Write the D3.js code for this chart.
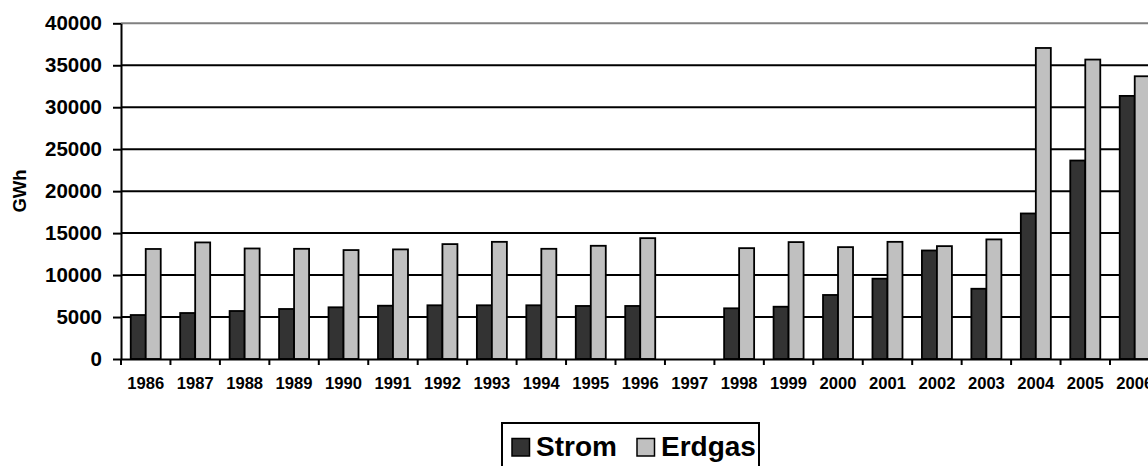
<!DOCTYPE html>
<html>
<head>
<meta charset="utf-8">
<script src="https://cdn.jsdelivr.net/npm/d3@7"></script>
<style>
  html, body { margin: 0; padding: 0; background: #fff; overflow: hidden; }
  svg { display: block; font-family: "Liberation Sans", Arial, sans-serif; font-weight: bold; }
</style>
</head>
<body>
<svg id="chart" width="1148" height="466"></svg>
<script>
// Jahre (Kategorien)
const years = ["1986","1987","1988","1989","1990","1991","1992","1993","1994","1995","1996",
               "1997","1998","1999","2000","2001","2002","2003","2004","2005","2006"];
// Strom in GWh (1997 ohne Wert)
const strom = [5240, 5480, 5720, 5960, 6160, 6350, 6400, 6400, 6400, 6320, 6320,
               null, 6040, 6230, 7630, 9570, 12930, 8370, 17340, 23650, 31350];
// Erdgas in GWh (1997 ohne Wert)
const erdgas = [13110, 13890, 13170, 13130, 12980, 13060, 13690, 13960, 13130, 13490, 14400,
                null, 13210, 13930, 13330, 13960, 13450, 14250, 37060, 35680, 33690];
const seriesNames = ["Strom", "Erdgas"];
const yTicks = [0, 5000, 10000, 15000, 20000, 25000, 30000, 35000, 40000];

const colors = { Strom: "#333333", Erdgas: "#c0c0c0" };

const svg = d3.select("#chart");
const plotLeft = 121, plotBottom = 359, plotTop = 23.3, step = 49.45;
const plotRight = plotLeft + step * years.length;

const x0 = d3.scaleBand().domain(years).range([plotLeft, plotRight]).padding(0);
const x1 = d3.scaleBand().domain(seriesNames).range([0, x0.bandwidth()])
  .paddingInner(0).paddingOuter(0.648);
const y = d3.scaleLinear().domain([0, 40000]).range([plotBottom, plotTop]);

// Gitternetzlinien
svg.append("g").selectAll("line")
  .data(yTicks.filter(d => d > 0))
  .join("line")
  .attr("x1", plotLeft).attr("x2", plotRight)
  .attr("y1", d => y(d)).attr("y2", d => y(d))
  .attr("stroke", d => d === 40000 ? "#808080" : "#000")
  .attr("stroke-width", 2);

// Balken
const rows = years.map((yr, i) => ({ year: yr, Strom: strom[i], Erdgas: erdgas[i] }));
svg.append("g").selectAll("g")
  .data(rows)
  .join("g")
  .attr("transform", d => `translate(${x0(d.year)},0)`)
  .selectAll("rect")
  .data(d => seriesNames.filter(k => d[k] != null).map(k => ({ key: k, value: d[k] })))
  .join("rect")
  .attr("x", d => x1(d.key))
  .attr("width", x1.bandwidth())
  .attr("y", d => y(d.value))
  .attr("height", d => y(0) - y(d.value))
  .attr("fill", d => colors[d.key])
  .attr("stroke", "#000")
  .attr("stroke-width", 1.8);

// Y-Achse
const yAxis = svg.append("g")
  .attr("transform", `translate(${plotLeft},0)`)
  .call(d3.axisLeft(y).tickValues(yTicks).tickFormat(d3.format("d"))
    .tickSize(8).tickPadding(11).tickSizeOuter(0));
yAxis.select(".domain").attr("stroke", "#000").attr("stroke-width", 2);
yAxis.selectAll(".tick line").attr("stroke", "#000").attr("stroke-width", 2);
yAxis.selectAll(".tick text")
  .attr("font-size", 20.5).attr("font-weight", "bold")
  .attr("font-family", "Liberation Sans, Arial, sans-serif").attr("fill", "#000");

// X-Achse: Beschriftung in der Mitte, Teilstriche an den Kategoriegrenzen
const xAxis = svg.append("g")
  .attr("transform", `translate(0,${plotBottom})`)
  .call(d3.axisBottom(x0).tickSize(0).tickPadding(18).tickSizeOuter(0));
xAxis.select(".domain").attr("stroke", "#000").attr("stroke-width", 2);
xAxis.selectAll(".tick text")
  .attr("font-size", 16.6).attr("font-weight", "bold")
  .attr("font-family", "Liberation Sans, Arial, sans-serif").attr("fill", "#000");
xAxis.selectAll(".tick line").remove();
xAxis.append("g").selectAll("line")
  .data(years)
  .join("line")
  .attr("x1", d => x0(d)).attr("x2", d => x0(d))
  .attr("y1", 0).attr("y2", 6)
  .attr("stroke", "#000").attr("stroke-width", 2);

// Achsentitel
svg.append("text")
  .attr("transform", "translate(26,191) rotate(-90)")
  .attr("text-anchor", "middle")
  .attr("font-size", 18.5)
  .attr("fill", "#000")
  .text("GWh");

// Legende
const legend = svg.append("g");
legend.append("rect")
  .attr("x", 502).attr("y", 423).attr("width", 257).attr("height", 60)
  .attr("fill", "#fff").attr("stroke", "#000").attr("stroke-width", 2);
const legendPos = { Strom: 512, Erdgas: 637 };
seriesNames.forEach(k => {
  legend.append("rect")
    .attr("x", legendPos[k]).attr("y", 438.5).attr("width", 17.5).attr("height", 17.5)
    .attr("fill", colors[k]).attr("stroke", "#000").attr("stroke-width", 1.5);
  legend.append("text")
    .attr("x", legendPos[k] + 24).attr("y", 456)
    .attr("font-size", 28).attr("fill", "#000")
    .text(k);
});
</script>
</body>
</html>
